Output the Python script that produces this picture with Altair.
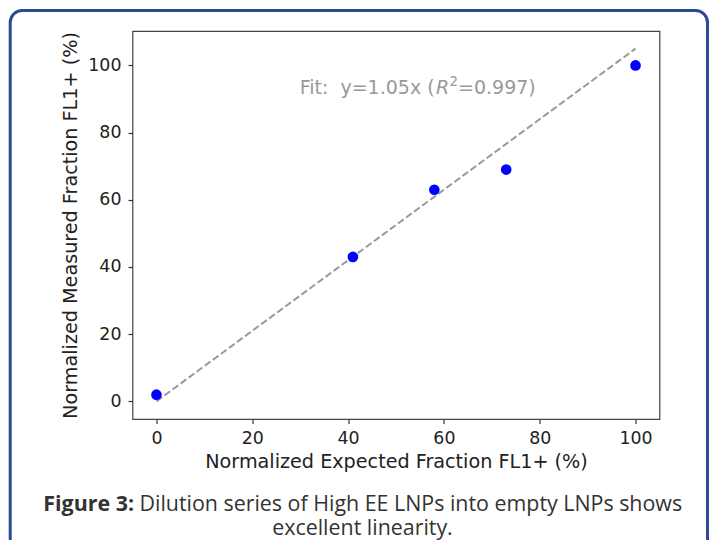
import altair as alt
import pandas as pd

# ---- data ----
expected = [0, 41, 58, 73, 100]
measured = [2, 43, 63, 69, 100]
fit_x = [0, 100]
fit_y = [0, 105]
x_ticks = [0, 20, 40, 60, 80, 100]
y_ticks = [0, 20, 40, 60, 80, 100]
x_title = "Normalized Expected Fraction FL1+ (%)"
y_title = "Normalized Measured Fraction FL1+ (%)"
fit_main = "Fit:\u00a0 y=1.05x ("
fit_r = "R"
fit_sup = "2"
fit_tail = "=0.997)"
caption_bold = "Figure 3:"
caption_line1 = "Dilution series of High EE LNPs into empty LNPs shows"
caption_line2 = "excellent linearity."

# annotation anchor (data coordinates)
fit_label_x = 29.9
fit_label_y = 91.6

W, H = 527, 388

axis_common = dict(grid=False, domain=False, ticks=True, tickSize=4.5, tickWidth=1.2,
                   tickColor="#333333", labelFont="DejaVu Sans", labelFontSize=17.4,
                   labelColor="#222222", titleFont="DejaVu Sans", titleFontSize=19.2,
                   titleFontWeight="normal", titleColor="#222222", labelOverlap=False,
                   labelFlush=False)

X = alt.X("x:Q", scale=alt.Scale(domain=[-5, 105], nice=False, zero=False),
          axis=alt.Axis(values=x_ticks, title=x_title, labelPadding=6, titlePadding=6,
                        **axis_common))
Y = alt.Y("y:Q", scale=alt.Scale(domain=[-5.25, 110.25], nice=False, zero=False),
          axis=alt.Axis(values=y_ticks, title=y_title, labelPadding=7, titlePadding=7,
                        **axis_common))

pts = pd.DataFrame({"x": expected, "y": measured})
fit = pd.DataFrame({"x": fit_x, "y": fit_y})
one = pd.DataFrame({"x": [fit_label_x], "y": [fit_label_y]})

card = alt.Chart(pd.DataFrame({"k": [0]})).mark_rect(
    fillOpacity=0, stroke="#2c4a92", strokeWidth=3, cornerRadius=12
).encode(x=alt.value(-122.3), x2=alt.value(575), y=alt.value(-20.5), y2=alt.value(560))

line = alt.Chart(fit).mark_line(color="#999999", strokeDash=[7, 3], strokeWidth=2).encode(x=X, y=Y)
dots = alt.Chart(pts).mark_circle(size=113, color="#0000ff", opacity=1).encode(x=X, y=Y)

tstyle = dict(font="DejaVu Sans", fontSize=19, color="#999999", align="left", baseline="alphabetic")
t1 = alt.Chart(one).mark_text(**tstyle).encode(x="x:Q", y="y:Q", text=alt.value(fit_main))
t2 = alt.Chart(one).mark_text(fontStyle="italic", dx=136.3, **tstyle).encode(
    x="x:Q", y="y:Q", text=alt.value(fit_r))
t3 = alt.Chart(one).mark_text(font="DejaVu Sans", fontSize=13.3, color="#999999", align="left",
                              baseline="alphabetic", dx=149.8, dy=-7.5).encode(
    x="x:Q", y="y:Q", text=alt.value(fit_sup))
t4 = alt.Chart(one).mark_text(dx=158.3, **tstyle).encode(x="x:Q", y="y:Q", text=alt.value(fit_tail))

cstyle = dict(font="Open Sans", fontSize=21.4, color="#333333", baseline="alphabetic")
c1 = alt.Chart(pd.DataFrame({"t": [caption_bold]})).mark_text(
    align="right", fontWeight="bold", **cstyle).encode(
    x=alt.value(1.5), y=alt.value(480), text="t:N")
c2 = alt.Chart(pd.DataFrame({"t": [caption_line1]})).mark_text(
    align="left", **cstyle).encode(x=alt.value(7), y=alt.value(480), text="t:N")
c3 = alt.Chart(pd.DataFrame({"t": [caption_line2]})).mark_text(
    align="center", **cstyle).encode(x=alt.value(230), y=alt.value(503.5), text="t:N")

chart = alt.layer(card, line, dots, t1, t2, t3, t4, c1, c2, c3).properties(
    width=W, height=H,
    autosize=alt.AutoSizeParams(type="none"),
    padding={"left": 124.5, "top": 23, "right": 49.5, "bottom": 121},
    background="white",
).configure_view(stroke="#444444", strokeWidth=1.2)

chart.save("out.html", embed_options={"renderer": "svg", "actions": False})
